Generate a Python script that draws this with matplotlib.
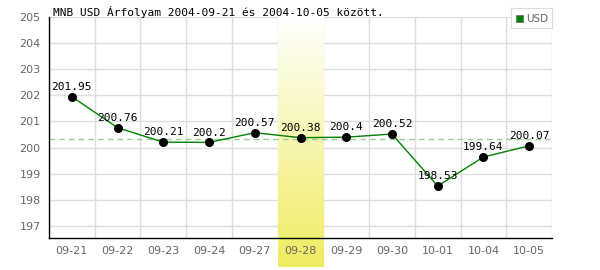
import numpy as np
import matplotlib
matplotlib.use("Agg")
import matplotlib.pyplot as plt
from matplotlib.colors import LinearSegmentedColormap

dates = ["09-21", "09-22", "09-23", "09-24", "09-27", "09-28",
         "09-29", "09-30", "10-01", "10-04", "10-05"]
usd = [201.95, 200.76, 200.21, 200.2, 200.57, 200.38,
       200.4, 200.52, 198.53, 199.64, 200.07]
avg = 200.33
highlight = "09-28"
title = "MNB USD Árfolyam 2004-09-21 és 2004-10-05 között."

fig = plt.figure(figsize=(6, 2.7), dpi=100)
ax = fig.add_axes([49 / 600, 32 / 270, 503 / 600, 221 / 270])

x = np.arange(len(dates))
ylo, yhi = 196.54, 205

# grid
ax.set_yticks(range(197, 206))
ax.set_xticks(x)
ax.set_xticklabels(dates)
for k in range(len(dates) + 1):
    ax.axvline(k - 0.5, color="#dddddd", lw=1, zorder=0)
for v in range(197, 206):
    ax.axhline(v, color="#dddddd", lw=1, zorder=0)

# highlighted day, runs down past the axis to the image bottom
hi = dates.index(highlight)
per_px = (yhi - ylo) / 221
ybot = ylo - 29 * per_px
cmap = LinearSegmentedColormap.from_list("band", ["#ffffff", "#f0ec60"])
grad = np.linspace(0, 1, 256).reshape(-1, 1)
ax.imshow(grad, extent=(hi - 0.5, hi + 0.5, ybot, yhi), cmap=cmap,
          aspect="auto", clip_on=False, zorder=1, origin="upper")
ax.set_xlim(-0.5, len(dates) - 0.5)
ax.set_ylim(ylo, yhi)

ax.axhline(avg, color="#99cc99", lw=1, ls=(0, (4, 3)), zorder=2)
ax.plot(x, usd, color="#008000", lw=1, zorder=3)
ax.plot(x, usd, "o", color="black", ms=5.5, zorder=4)
for xi, v in zip(x, usd):
    ax.text(xi, v + 0.18, f"{v:g}", ha="center", va="bottom",
            fontsize=8, family="DejaVu Sans Mono", zorder=5)

for s in ["top", "right"]:
    ax.spines[s].set_visible(False)
for s in ["left", "bottom"]:
    ax.spines[s].set_color("black")
    ax.spines[s].set_linewidth(1)
    ax.spines[s].set_zorder(6)
ax.tick_params(length=0, labelsize=8, labelcolor="#666666", pad=6)

fig.text(53 / 600, 1 - 12 / 270, title, fontsize=8, family="DejaVu Sans Mono",
         va="center", ha="left")

# legend box
lg = fig.add_axes([511 / 600, 1 - 28 / 270, 41 / 600, 20 / 270])
lg.set_xticks([])
lg.set_yticks([])
for s in lg.spines.values():
    s.set_color("#dddddd")
lg.set_xlim(0, 41)
lg.set_ylim(0, 20)
lg.add_patch(plt.Rectangle((5, 6), 7, 7, facecolor="#008000", edgecolor="#666666", lw=0.5))
lg.text(15, 9.5, "USD", fontsize=7.5, color="#666666", va="center", ha="left")

fig.savefig("out.png", dpi=100)
